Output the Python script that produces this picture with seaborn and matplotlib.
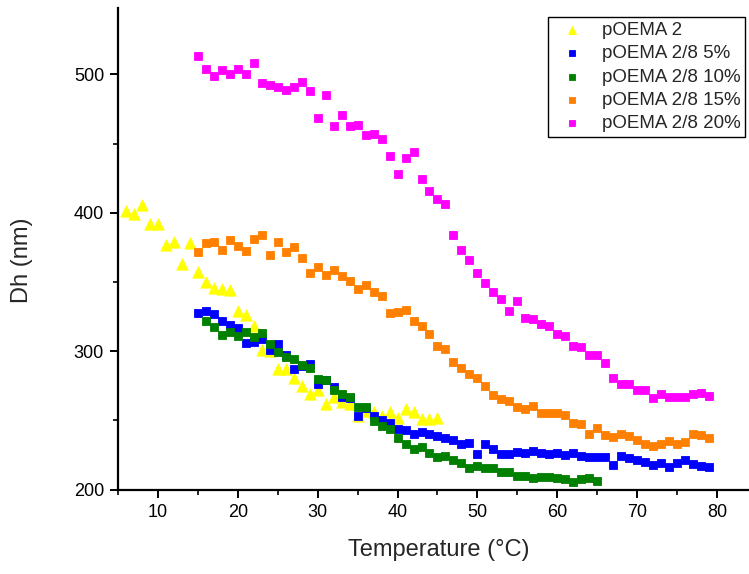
import numpy as np
import pandas as pd
import matplotlib
matplotlib.use("Agg")
import matplotlib.pyplot as plt
from matplotlib.ticker import MultipleLocator
import seaborn as sns

# Hydrodynamic diameter vs temperature for each polymer composition
temp_p2 = list(range(6, 46))
dh_p2 = [401, 399, 406, 392, 392, 377, 379, 363, 378, 357,
         350, 346, 345, 344, 329, 326, 318, 301, 300, 287,
         287, 281, 275, 269, 272, 262, 267, 263, 262, 253,
         257, 256, 253, 256, 252, 258, 256, 251, 251, 252]

temp_5 = list(range(15, 80))
dh_5 = [327.5, 329, 327, 322, 319, 317, 306, 306.5, 308.5, 301,
        305, 297.5, 287, 289, 291, 276.5, 279, 274.5, 267, 266,
        253.5, 259, 253.5, 250, 248.5, 244, 243, 240, 241.5, 240,
        238.5, 237.5, 236, 233, 234, 226, 233, 229, 226, 225.5,
        227.5, 226.5, 228, 226.3, 225.8, 226.8, 225.1, 226.8, 224.3, 223.4,
        223.6, 223.6, 217.6, 224.1, 222.9, 221.7, 219.8, 218.1, 219.5, 216.1,
        219.5, 221.2, 218.6, 216.9, 216.1]

temp_10 = list(range(16, 66))
dh_10 = [322, 317.5, 312, 313.7, 311, 313.7, 310, 313, 305.3, 299.3,
         296, 294.5, 290.4, 288, 280.2, 279.4, 272.3, 268.8, 267, 259.5,
         259.5, 249.4, 245.8, 243.9, 237.6, 233.3, 229.4, 230.6, 226.3, 223.4,
         224.6, 221.2, 219.5, 215.7, 217.4, 215.4, 215.4, 212.7, 212.8, 209.9,
         209.9, 208.2, 208.9, 209.2, 208.2, 207.5, 205.5, 207.5, 208.4, 206.3]

temp_15 = list(range(15, 80))
dh_15 = [372, 378, 378.6, 372.8, 380.5, 376.4, 372.3, 381.3, 384.2, 369.7,
         379.1, 371.4, 375, 367.2, 356.7, 360.7, 355.2, 358.4, 354.2, 350.9,
         345.2, 347.7, 343, 339.8, 327.8, 328.5, 329.7, 321.7, 318.1, 312.3,
         303.9, 301.5, 292, 288.2, 283.2, 280.8, 275, 268.2, 265.6, 264.4,
         259.8, 258.3, 260.5, 255.2, 255.2, 255.2, 253.7, 248.2, 247.5, 240.3,
         244.6, 239.8, 238.1, 240.3, 238.5, 236.2, 232.8, 231.6, 233, 235.2,
         232.8, 234.7, 240.3, 239.5, 237.6]

temp_20 = list(range(15, 80))
dh_20 = [513, 503.7, 498.6, 503, 500.3, 503.7, 500.6, 508.3, 494.1, 492.4,
         490.7, 488.7, 490.7, 494.3, 488, 468.3, 484.9, 463, 470.4, 462.5,
         463.7, 456, 456.9, 453.6, 440.8, 427.8, 439.6, 444.2, 424.4, 416,
         409.9, 406.1, 384.2, 373.3, 366.1, 356.7, 349.2, 342.7, 337.4, 329.4,
         336.4, 324.1, 323.6, 320, 317.9, 312.8, 310.8, 304.1, 302.7, 297.6,
         297.6, 291.6, 280.3, 276.6, 276.6, 272.1, 272.1, 266, 269.2, 266.7,
         266.7, 267, 269.4, 269.6, 267.9]

series_names = ["pOEMA 2", "pOEMA 2/8 5%", "pOEMA 2/8 10%",
                "pOEMA 2/8 15%", "pOEMA 2/8 20%"]
series_temps = [temp_p2, temp_5, temp_10, temp_15, temp_20]
series_dh = [dh_p2, dh_5, dh_10, dh_15, dh_20]
series_colors = ["#FFFF00", "#0000FF", "#008000", "#FF8000", "#FF00FF"]
series_markers = ["^", "s", "s", "s", "s"]
series_sizes = [66, 34, 34, 34, 34]

frames = []
for name, t, d in zip(series_names, series_temps, series_dh):
    frames.append(pd.DataFrame({"Temperature": t, "Dh": d, "Sample": name}))
df = pd.concat(frames, ignore_index=True)

sns.set_style("ticks")
plt.rcParams["font.family"] = ["Liberation Sans", "DejaVu Sans"]

fig = plt.figure(figsize=(7.49, 5.74), dpi=100)
ax = fig.add_axes([0.1575, 0.147, 0.8425, 0.839])

for name, color, marker, size in zip(series_names, series_colors,
                                     series_markers, series_sizes):
    sub = df[df["Sample"] == name]
    sns.scatterplot(data=sub, x="Temperature", y="Dh", ax=ax, color=color,
                    marker=marker, s=size, linewidth=0.6,
                    edgecolor=color, alpha=1.0, label=name, zorder=3)

ax.set_xlim(5, 84)
ax.set_ylim(200, 548)
ax.xaxis.set_major_locator(MultipleLocator(10))
ax.xaxis.set_minor_locator(MultipleLocator(5))
ax.yaxis.set_major_locator(MultipleLocator(100))
ax.yaxis.set_minor_locator(MultipleLocator(50))

ax.spines["top"].set_visible(False)
ax.spines["right"].set_visible(False)
for side in ("left", "bottom"):
    ax.spines[side].set_linewidth(1.6)
    ax.spines[side].set_color("black")

ax.tick_params(which="major", direction="out", length=6, width=1.4,
               labelsize=13, colors="black", pad=4)
ax.tick_params(which="minor", direction="out", length=3.5, width=1.2,
               colors="black")

ax.set_xlabel("Temperature (°C)", fontsize=17, va="center")
ax.xaxis.set_label_coords(0.508, -0.126)
ax.set_ylabel("Dh (nm)", fontsize=17, va="center")
ax.yaxis.set_label_coords(-0.152, 0.477)

leg = ax.legend(loc="upper right", bbox_to_anchor=(0.9937, 0.981),
                borderaxespad=0.0, fontsize=13.5, frameon=True,
                fancybox=False, edgecolor="black", framealpha=1.0,
                borderpad=0.25, labelspacing=0.33, handletextpad=0.6,
                markerscale=0.7)
leg.get_frame().set_linewidth(1.0)

fig.savefig("out.png", dpi=100)
